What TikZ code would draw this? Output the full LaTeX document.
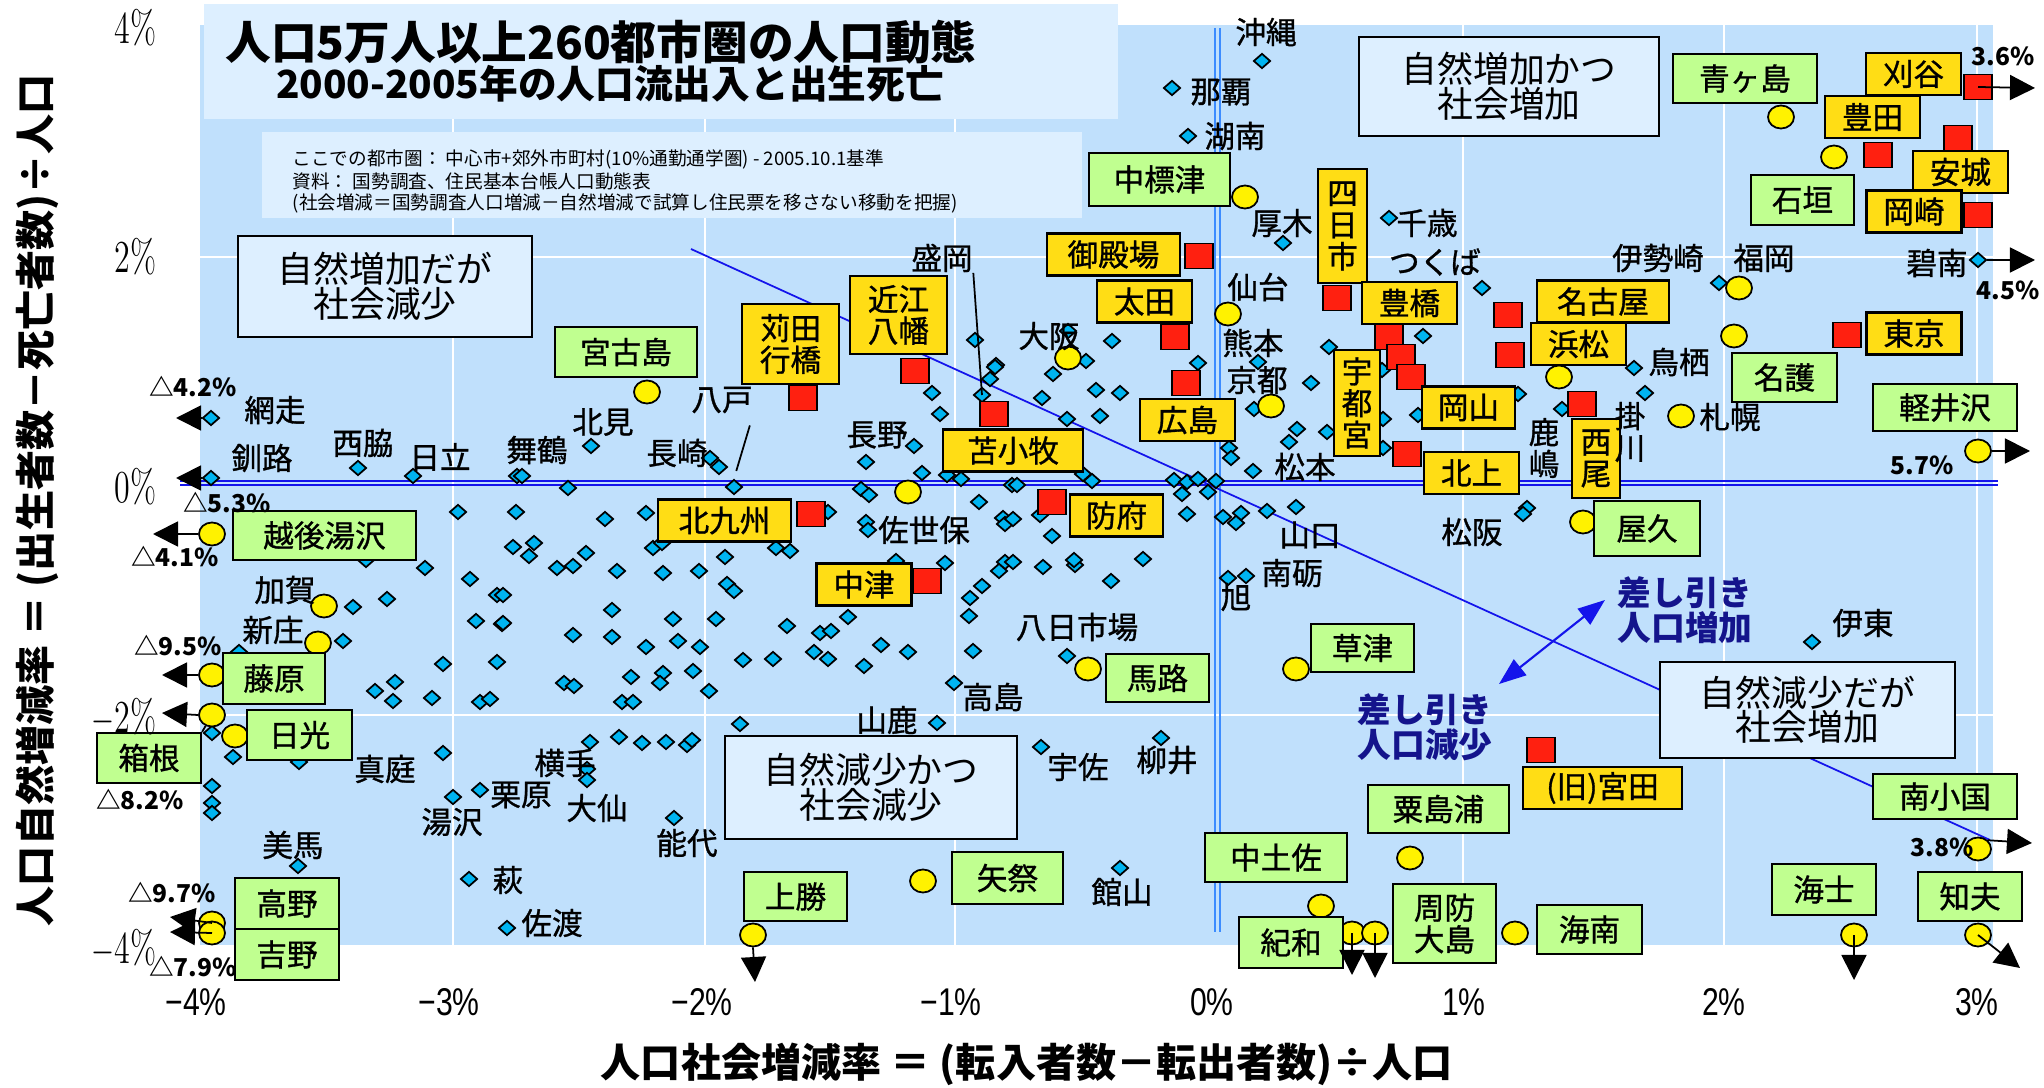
\documentclass[tikz,border=0pt]{standalone}
\usepackage{fontspec}
\usepackage{graphicx}
\usetikzlibrary{shapes.geometric,arrows.meta}

\newfontfamily\jp{Noto Sans CJK JP}
\newfontfamily\jpm{Noto Sans CJK JP}[FakeBold=1]
\newfontfamily\arial{Liberation Sans}

\definecolor{plotbg}{RGB}{192,224,252}
\definecolor{palebox}{RGB}{221,239,255}
\definecolor{dotcyan}{RGB}{0,180,240}
\definecolor{labgold}{RGB}{255,221,21}
\definecolor{labgreen}{RGB}{192,255,144}
\definecolor{sqred}{RGB}{255,32,16}
\definecolor{netnavy}{RGB}{20,20,140}
\definecolor{axisblue}{RGB}{20,20,235}
\definecolor{zeroblue}{RGB}{60,140,255}

\newcommand{\yticklab}[1]{\scalebox{0.7}[1]{#1}}
\newcommand{\xticklab}[1]{\scalebox{0.78}[1]{#1}}

\begin{document}
\begin{tikzpicture}[x=0.01cm, y=-0.01cm,
        dot/.style={diamond, draw, fill=dotcyan, line width=0.5pt, inner sep=0pt, minimum width=0.17cm, minimum height=0.15cm},
        ball/.style={ellipse, draw, fill=yellow, line width=0.5pt, inner sep=0pt, minimum width=0.26cm, minimum height=0.23cm},
        blk/.style={rectangle, draw, fill=sqred, line width=0.4pt, inner sep=0pt, minimum width=0.28cm, minimum height=0.25cm},
        ylab/.style={rectangle, draw, fill=labgold, line width=0.6pt, inner sep=0pt, minimum width=0.95cm, minimum height=0.42cm, align=center, font=\jpm\fontsize{8.7}{9}\selectfont},
        glab/.style={rectangle, draw, fill=labgreen, line width=0.6pt, inner sep=0pt, minimum width=1.04cm, minimum height=0.49cm, align=center, font=\jpm\fontsize{8.7}{9}\selectfont},
        city/.style={inner sep=0pt, align=center, font=\jpm\fontsize{8.7}{9}\selectfont},
        pct/.style={inner sep=0pt, font=\jp\bfseries\fontsize{7}{7}\selectfont},
        quad/.style={rectangle, draw, fill=palebox, line width=0.6pt, inner sep=0pt, align=center, font=\jp\fontsize{10.2}{9.8}\selectfont},
        outarr/.style={-{Triangle[length=0.25cm, width=0.25cm]}, line width=0.5pt},
        gridline/.style={white, line width=0.6pt}
    ]
    \useasboundingbox (0,0) rectangle (2044,1088);

    % plot area and grid
    \fill[plotbg] (200,25) rectangle (1993,945);
    \foreach \gx in {453,705,955,1463,1724,1977}
        \draw[gridline] (\gx,25) -- (\gx,945);
    \foreach \gy in {257,715}
        \draw[gridline] (200,\gy) -- (1993,\gy);

    % zero lines and trend
    \draw[axisblue, line width=0.6pt] (180,481) -- (1998,481);
    \draw[axisblue, line width=0.6pt] (180,485) -- (1998,485);
    \draw[zeroblue, line width=0.6pt] (1215,28) -- (1215,932);
    \draw[zeroblue, line width=0.6pt] (1220,28) -- (1220,932);
    \coordinate (trendA) at (691,249);
    \coordinate (trendB) at (1990,840);
    \draw[axisblue, line width=0.5pt] (trendA) -- (trendB);

    % title and note
    \fill[palebox] (204,4) rectangle (1118,119);
    \fill[palebox] (262,132) rectangle (1082,218);
    \node[font=\jp\bfseries\fontsize{13}{14}\selectfont] (title1) at (601,42) {人口5万人以上260都市圏の人口動態};
    \node[font=\jp\bfseries\fontsize{11}{12}\selectfont] (title2) at (610,84) {2000-2005年の人口流出入と出生死亡};
    \node[anchor=north west, align=left, inner sep=0pt, font=\jp\fontsize{5.3}{4.9}\selectfont] (note) at (292,149)
        {ここでの都市圏： 中心市+郊外市町村(10\%通勤通学圏) - 2005.10.1基準\\
         資料： 国勢調査、住民基本台帳人口動態表\\
         (社会増減＝国勢調査人口増減－自然増減で試算し住民票を移さない移動を把握)};

    % quadrants
    \node[quad, minimum width=2.94cm, minimum height=1.01cm] (qNW) at (385,286.5) {自然増加だが\\社会減少};
    \node[quad, minimum width=3.00cm, minimum height=0.99cm] (qNE) at (1509,86.5) {自然増加かつ\\社会増加};
    \node[quad, minimum width=2.92cm, minimum height=1.03cm] (qSW) at (871,787.5) {自然減少かつ\\社会減少};
    \node[quad, minimum width=2.95cm, minimum height=0.96cm] (qSE) at (1807.5,710) {自然減少だが\\社会増加};

    % ordinary areas
    \foreach \x/\y [count=\i] in {1262/61, 1172/88, 1188/136, 1283/243, 1389/218, 1482/288, 975/340, 996/365,
        1068/331, 1086/361, 1112/341, 1198/363, 1329/347, 1423/336, 1258/362, 1719/283, 1634/368, 1562/409,
        1645/393, 1812/642, 1527/508, 1523/514, 358/468, 413/476, 517/476, 458/512, 516/512, 513/547, 425/568,
        366/560, 470/579, 497/595, 387/599, 353/607, 476/621, 502/624, 343/641, 443/664, 497/662, 395/682,
        375/691, 393/701, 432/698, 480/702, 490/699, 239/652, 212/733, 233/757, 299/762, 212/786, 212/803,
        212/813, 443/753, 453/797, 480/790, 298/866, 469/879, 507/928, 590/742, 619/737, 642/743, 666/742,
        687/745, 692/740, 740/724, 937/723, 587/769, 587/780, 674/818, 1041/747, 1161/738, 1120/868,
        591/446, 522/476, 710/458, 719/467, 568/488, 914/446, 866/462, 932/393, 940/414, 995/367, 990/379,
        922/473, 947/475, 961/479, 1012/485, 979/502, 861/489, 869/495, 866/522, 868/530, 828/512, 1003/518,
        1005/524, 605/519, 646/513, 534/543, 529/556, 557/568, 573/566, 586/553, 617/571, 653/548, 662/543,
        663/573, 699/571, 725/557, 727/584, 734/591, 776/548, 790/551, 503/595, 503/623, 612/610, 673/619,
        716/619, 573/635, 612/637, 646/647, 678/641, 700/647, 743/660, 773/659, 787/626, 820/633, 831/631,
        848/617, 896/561, 945/563, 1005/562, 999/571, 982/586, 970/598, 969/616, 973/651, 881/645, 908/652,
        814/652, 828/659, 864/666, 564/683, 574/686, 631/677, 663/673, 660/683, 693/671, 709/691, 622/702,
        633/702, 954/683, 1053/374, 1042/398, 1096/390, 1120/393, 1067/419, 1100/416, 1083/474, 1092/481,
        1017/485, 1174/480, 1187/482, 1198/479, 1216/481, 1182/494, 1208/492, 1187/514, 1013/519, 1040/515,
        1052/536, 1013/562, 1043/567, 1075/565, 1074/560, 1143/559, 1111/581, 1223/517, 1241/513, 1236/523,
        1267/511, 1296/507, 1228/578, 1246/576, 1067/656, 1383/448, 1383/419, 1382/370, 1418/415, 1518/394,
        1311/383, 1254/409, 1297/429, 1289/442, 1327/432, 1253/471, 1229/448, 1231/458}
        \node[dot] (d\i) at (\x,\y) {};
    \node[dot] (dAbashiri) at (211,418) {};
    \node[dot] (dKushiro) at (211,478) {};
    \node[dot] (dHekinan) at (1978,260) {};
    \node[dot] (dMorioka) at (982,395) {};
    \node[dot] (dHachinohe) at (734,487) {};

    % small towns
    \foreach \x/\y [count=\i] in {1245/197, 1228/314, 1068/358, 1271/406, 1781/117, 1834/157, 1739/288,
        1734/336, 1559/377, 1681/416, 1583/522, 647/392, 908/492, 324/606, 318/643, 235/736, 923/881,
        1088/669, 1296/669, 1321/906, 1410/858, 1515/933}
        \node[ball] (m\i) at (\x,\y) {};
    \node[ball] (mEchigo) at (212,534) {};
    \node[ball] (mFujiwara) at (212,675) {};
    \node[ball] (mHakone) at (212,715) {};
    \node[ball] (mKoya) at (212,923) {};
    \node[ball] (mYoshino) at (212,933) {};
    \node[ball] (mKamikatsu) at (753,935) {};
    \node[ball] (mKiwaA) at (1352,933) {};
    \node[ball] (mKiwaB) at (1375,933) {};
    \node[ball] (mKaruizawa) at (1978,451) {};
    \node[ball] (mMinami) at (1978,849) {};
    \node[ball] (mAma) at (1854,935) {};
    \node[ball] (mChibu) at (1978,935) {};

    % growing cities
    \foreach \x/\y [count=\i] in {1878/155, 1958/138, 1978/215, 1847/335, 1508/315, 1510/355, 1582/404,
        1337/298, 1389/337, 1401/357, 1411/377, 1407/454, 1199/256, 1175/337, 1186/383, 1052/502, 994/414,
        915/371, 803/398, 811/514, 927/581, 1541/750}
        \node[blk] (s\i) at (\x,\y) {};
    \node[blk] (sKariya) at (1978,87) {};

    % yellow labels
    \node[ylab] (bKariya) at (1913.5,74) {刈谷};
    \node[ylab] (bToyota) at (1872.5,117) {豊田};
    \node[ylab] (bAnjo) at (1960.5,172) {安城};
    \node[ylab] (bOkazaki) at (1914,211.5) {岡崎};
    \node[ylab] (bTokyo) at (1914,333.5) {東京};
    \node[ylab, minimum width=1.32cm] (bNagoya) at (1603,301.5) {名古屋};
    \node[ylab] (bHamamatsu) at (1578.5,344) {浜松};
    \node[ylab, minimum width=0.48cm, minimum height=0.79cm] (bNishio) at (1596,458.5) {西\\尾};
    \node[ylab, minimum width=0.49cm, minimum height=1.14cm] (bYokkaichi) at (1342.5,226) {四\\日\\市};
    \node[ylab] (bToyohashi) at (1409.5,303) {豊橋};
    \node[ylab, minimum width=0.46cm, minimum height=1.06cm] (bUtsunomiya) at (1357,403) {宇\\都\\宮};
    \node[ylab, minimum width=0.93cm] (bOkayama) at (1468.5,407.5) {岡山};
    \node[ylab] (bKitakami) at (1471.5,473) {北上};
    \node[ylab, minimum width=1.33cm] (bGotemba) at (1113.5,254.5) {御殿場};
    \node[ylab] (bOta) at (1144.5,301.5) {太田};
    \node[ylab] (bHiroshima) at (1187.5,420) {広島};
    \node[ylab, minimum width=0.93cm] (bHofu) at (1116.5,515.5) {防府};
    \node[ylab, minimum width=1.40cm] (bTomakomai) at (1013,450.5) {苫小牧};
    \node[ylab, minimum width=0.97cm, minimum height=0.78cm] (bOmihachiman) at (898.5,315) {近江\\八幡};
    \node[ylab, minimum width=0.97cm, minimum height=0.80cm] (bKanda) at (790.5,344) {苅田\\行橋};
    \node[ylab, minimum width=1.33cm] (bKitakyushu) at (724.5,520.5) {北九州};
    \node[ylab] (bNakatsu) at (864,584.5) {中津};
    \node[ylab, minimum width=1.59cm] (bMiyata) at (1602.5,788) {(旧)宮田};

    % green labels
    \node[glab, minimum width=1.44cm] (bAogashima) at (1745,78.5) {青ヶ島};
    \node[glab, minimum width=1.03cm, minimum height=0.50cm] (bIshigaki) at (1802.5,200) {石垣};
    \node[glab, minimum width=1.05cm] (bNago) at (1784.5,377.5) {名護};
    \node[glab, minimum width=1.44cm, minimum height=0.47cm] (bKaruizawa) at (1945,407.5) {軽井沢};
    \node[glab, minimum width=1.06cm, minimum height=0.55cm] (bYaku) at (1647,528.5) {屋久};
    \node[glab, minimum width=1.41cm, minimum height=0.53cm] (bNakashibetsu) at (1159.5,179.5) {中標津};
    \node[glab, minimum width=1.42cm, minimum height=0.50cm] (bMiyakojima) at (626,352) {宮古島};
    \node[glab, minimum width=1.83cm] (bEchigo) at (324.5,535.5) {越後湯沢};
    \node[glab, minimum width=1.02cm, minimum height=0.51cm] (bFujiwara) at (274,678.5) {藤原};
    \node[glab, minimum width=1.05cm, minimum height=0.50cm] (bNikko) at (299.5,735) {日光};
    \node[glab, minimum height=0.50cm] (bHakone) at (149,758) {箱根};
    \node[glab, minimum height=0.51cm] (bKoya) at (287,903.5) {高野};
    \node[glab, minimum height=0.51cm] (bYoshino) at (287,954.5) {吉野};
    \node[glab, minimum width=1.03cm] (bKamikatsu) at (795.5,896.5) {上勝};
    \node[glab, minimum width=1.11cm, minimum height=0.52cm] (bYamatsuri) at (1007.5,878) {矢祭};
    \node[glab, minimum width=1.03cm, minimum height=0.48cm] (bUmaji) at (1157.5,678) {馬路};
    \node[glab, minimum width=1.03cm, minimum height=0.48cm] (bKusatsu) at (1362.5,648) {草津};
    \node[glab, minimum width=1.42cm] (bNakatosa) at (1276,857.5) {中土佐};
    \node[glab, minimum width=1.41cm, minimum height=0.48cm] (bAwashimaura) at (1438.5,809) {粟島浦};
    \node[glab, minimum height=0.51cm] (bKiwa) at (1291,942.5) {紀和};
    \node[glab, minimum width=1.03cm, minimum height=0.79cm] (bSuooshima) at (1444.5,923.5) {周防\\大島};
    \node[glab, minimum width=1.05cm] (bKainan) at (1589.5,929.5) {海南};
    \node[glab, minimum width=1.44cm, minimum height=0.45cm] (bMinamioguni) at (1945,796.5) {南小国};
    \node[glab, minimum height=0.51cm] (bAma) at (1824,889.5) {海士};
    \node[glab] (bChibu) at (1970,896.5) {知夫};

    % plain city names
    \foreach \x/\y/\t [count=\i] in {1266/32/沖縄, 1221/92/那覇, 1235/136/湖南, 1282/223/厚木, 1427/223/千歳,
        1435/262/つくば, 1258/287/仙台, 1049/336/大阪, 1253/343/熊本, 1257/380/京都, 1658/258/伊勢崎,
        1764/258/福岡, 1937/263/碧南, 1679/362/鳥栖, 1730/417/札幌, 1305/467/松本, 1310/535/山口,
        1472/532/松阪, 1292/573/南砺, 1236/597/旭, 1077/627/八日市場, 1863/623/伊東, 275/410/網走,
        262/458/釧路, 363/443/西脇, 440/457/日立, 537/450/舞鶴, 603/422/北見, 677/453/長崎, 877/435/長野,
        924/530/佐世保, 285/590/加賀, 273/630/新庄, 993/697/高島, 887/720/山鹿, 385/769/真庭, 521/795/栗原,
        452/822/湯沢, 565/763/横手, 597/808/大仙, 687/843/能代, 293/845/美馬, 508/880/萩, 552/923/佐渡,
        1078/767/宇佐, 1167/760/柳井, 1122/892/館山}
        \node[city] (t\i) at (\x,\y) {\t};
    \node[city] (tKashima) at (1544,448) {鹿\\嶋};
    \node[city] (tKakegawa) at (1630,432) {掛\\川};
    \node[city] (tMorioka) at (942,258) {盛岡};
    \node[city] (tHachinohe) at (722,400) {八戸};

    % leaders
    \draw[line width=0.5pt] (tMorioka.south east) -- (dMorioka.center);
    \draw[line width=0.5pt, shorten <=0.12cm, shorten >=0.08cm] (tHachinohe.south east) -- (dHachinohe.north);
    \draw[line width=0.5pt] (bHakone.north east) -- (mHakone);

    % values off the chart
    \foreach \x/\y/\t [count=\i] in {193/387/△4.2\%, 227/503/△5.3\%, 175/557/△4.1\%, 178/646/△9.5\%,
        140/800/△8.2\%, 172/893/△9.7\%, 193/967/△7.9\%, 2003/56/3.6\%, 2008/290/4.5\%, 1922/465/5.7\%,
        1942/847/3.8\%}
        \node[pct] (p\i) at (\x,\y) {\t};

    \coordinate (aAbashiri) at (176,418);
    \coordinate (aKushiro) at (176,478);
    \coordinate (aEchigo) at (153,534);
    \coordinate (aFujiwara) at (162,675);
    \coordinate (aHakone) at (162,713);
    \coordinate (aKoya) at (170,917);
    \coordinate (aYoshino) at (170,932);
    \coordinate (aKamikatsu) at (755,982);
    \coordinate (aKiwaA) at (1352,975);
    \coordinate (aKiwaB) at (1375,978);
    \coordinate (aAma) at (1854,980);
    \coordinate (aChibu) at (2020,968);
    \coordinate (aMinami) at (2032,843);
    \coordinate (aKaruizawa) at (2030,451);
    \coordinate (aHekinan) at (2035,260);
    \coordinate (aKariya) at (2035,88);
    \draw[outarr] (dAbashiri.west) -- (aAbashiri);
    \draw[outarr] (dKushiro.west) -- (aKushiro);
    \draw[outarr] (mEchigo.west) -- (aEchigo);
    \draw[outarr] (mFujiwara.west) -- (aFujiwara);
    \draw[outarr] (mHakone.west) -- (aHakone);
    \draw[outarr] (mKoya.center) -- (aKoya);
    \draw[outarr] (mYoshino.center) -- (aYoshino);
    \draw[outarr] (mKamikatsu.south) -- (aKamikatsu);
    \draw[outarr] (mKiwaA.center) -- (aKiwaA);
    \draw[outarr] (mKiwaB.center) -- (aKiwaB);
    \draw[outarr] (mAma.center) -- (aAma);
    \draw[outarr] (mChibu.center) -- (aChibu);
    \draw[outarr] (mMinami.north east) -- (aMinami);
    \draw[outarr] (mKaruizawa.east) -- (aKaruizawa);
    \draw[outarr] (dHekinan.east) -- (aHekinan);
    \draw[outarr] (sKariya.center) -- (aKariya);

    % net change
    \coordinate (netDown) at (1499,684);
    \coordinate (netUp) at (1605,600);
    \draw[axisblue, line width=0.6pt, {Triangle[length=0.27cm, width=0.2cm]}-{Triangle[length=0.27cm, width=0.2cm]}] (netDown) -- (netUp);
    \node[align=center, inner sep=0pt, text=netnavy, font=\jp\bfseries\fontsize{9.6}{10}\selectfont] (tNetUp) at (1685,610) {差し引き\\人口増加};
    \node[align=center, inner sep=0pt, text=netnavy, font=\jp\bfseries\fontsize{9.6}{10}\selectfont] (tNetDown) at (1425,727) {差し引き\\人口減少};

    % axes
    \foreach \v/\y [count=\i] in {4/28, 2/257, 0/487, $-$2/717, $-$4/948}
        \node[anchor=east, inner sep=0pt, font=\fontsize{13}{13}\selectfont] (yt\i) at (157,\y) {\yticklab{\v\%}};
    \foreach \v/\x [count=\i] in {−4/196, −3/449, −2/702, −1/951, 0/1212, 1/1464, 2/1724, 3/1977}
        \node[inner sep=0pt, font=\arial\fontsize{11}{11}\selectfont] (xt\i) at (\x,1002) {\xticklab{\v\%}};
    \node[rotate=90, inner sep=0pt, font=\jp\bfseries\fontsize{11.4}{12}\selectfont] (ytitle) at (37,500)
        {人口自然増減率 ＝ (出生者数－死亡者数)÷人口};
    \node[inner sep=0pt, font=\jp\bfseries\fontsize{11.4}{12}\selectfont] (xtitle) at (1027,1064)
        {人口社会増減率 ＝ (転入者数－転出者数)÷人口};
\end{tikzpicture}
\end{document}
